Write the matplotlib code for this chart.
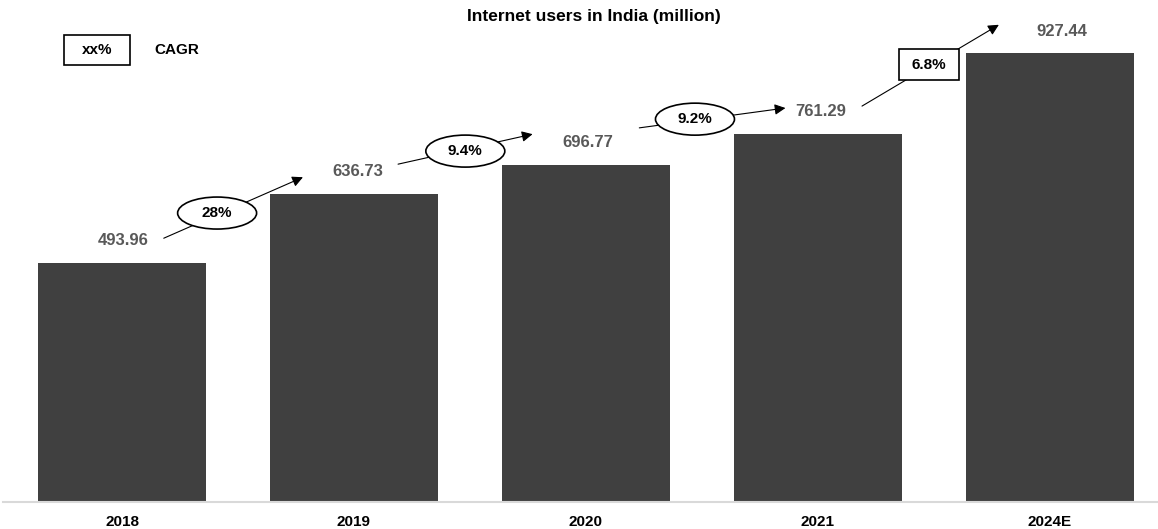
import numpy as np
import matplotlib.pyplot as plt
from matplotlib.patches import Ellipse, Rectangle

plt.rcParams['font.family'] = ['Liberation Sans', 'DejaVu Sans']

# data
years = ['2018', '2019', '2020', '2021', '2024E']
users = [493.96, 636.73, 696.77, 761.29, 927.44]
cagr = ['28%', '9.4%', '9.2%', '6.8%']

# layout: value label x nudges (bar widths), arrows in data coords
label_dx = [0.005, 0.015, 0.01, 0.01, 0.05]
arrow_start = [(0.18, 545), (1.19, 698), (2.23, 773), (3.19, 818)]
arrow_end = [(0.78, 671), (1.77, 760), (2.86, 814), (3.78, 986)]
label_pos = [(0.41, 597), (1.48, 725), (2.47, 791), (3.48, 903)]
label_shape = ['ellipse', 'ellipse', 'ellipse', 'box']

fig = plt.figure(figsize=(11.58, 5.29), dpi=100)
ax = fig.add_axes([3/1158, 27/529, 1155/1158, 502/529])

x = np.arange(len(years))
ax.bar(x, users, width=0.725, color='#404040', zorder=2)
for xi, v, dx in zip(x, users, label_dx):
    ax.text(xi + dx, v + 22/0.484, f'{v:.2f}', ha='center', va='center',
            fontsize=12, fontweight='bold', color='#595959')

for s, e, p, lab, shp in zip(arrow_start, arrow_end, label_pos, cagr, label_shape):
    ax.annotate('', xy=e, xytext=s,
                arrowprops=dict(arrowstyle='-|>', color='black', lw=0.8,
                                mutation_scale=16, shrinkA=0, shrinkB=0),
                zorder=3)
    if shp == 'ellipse':
        patch = Ellipse(p, width=79/232, height=32/0.484, facecolor='white',
                        edgecolor='black', lw=1.2, zorder=4)
    else:
        patch = Rectangle((p[0] - 30/232, p[1] - 15.5/0.484), 60/232, 31/0.484,
                          facecolor='white', edgecolor='black', lw=1.2, zorder=4)
    ax.add_patch(patch)
    ax.text(p[0], p[1], lab, ha='center', va='center', fontsize=11,
            fontweight='bold', color='black', zorder=5)

ax.set_xlim(-0.513, 4.466)
ax.set_ylim(0, 502/0.484)
ax.set_xticks(x)
ax.set_xticklabels(years, fontsize=11, fontweight='bold')
ax.tick_params(axis='x', length=0, pad=9)
ax.set_yticks([])
for side in ['top', 'right', 'left']:
    ax.spines[side].set_visible(False)
ax.spines['bottom'].set_color('#d9d9d9')
ax.spines['bottom'].set_linewidth(1.5)

# title and legend
fig.text(594/1158, 1 - 17/529, 'Internet users in India (million)', ha='center',
         va='center', fontsize=12.5, fontweight='bold')
fig.patches.append(Rectangle((64/1158, 1 - 65/529), 66/1158, 30/529,
                             transform=fig.transFigure, facecolor='white',
                             edgecolor='black', lw=1.2))
fig.text(97/1158, 1 - 50/529, 'xx%', ha='center', va='center', fontsize=11,
         fontweight='bold')
fig.text(154/1158, 1 - 50/529, 'CAGR', ha='left', va='center', fontsize=11,
         fontweight='bold')

plt.savefig('out.png', dpi=100)
